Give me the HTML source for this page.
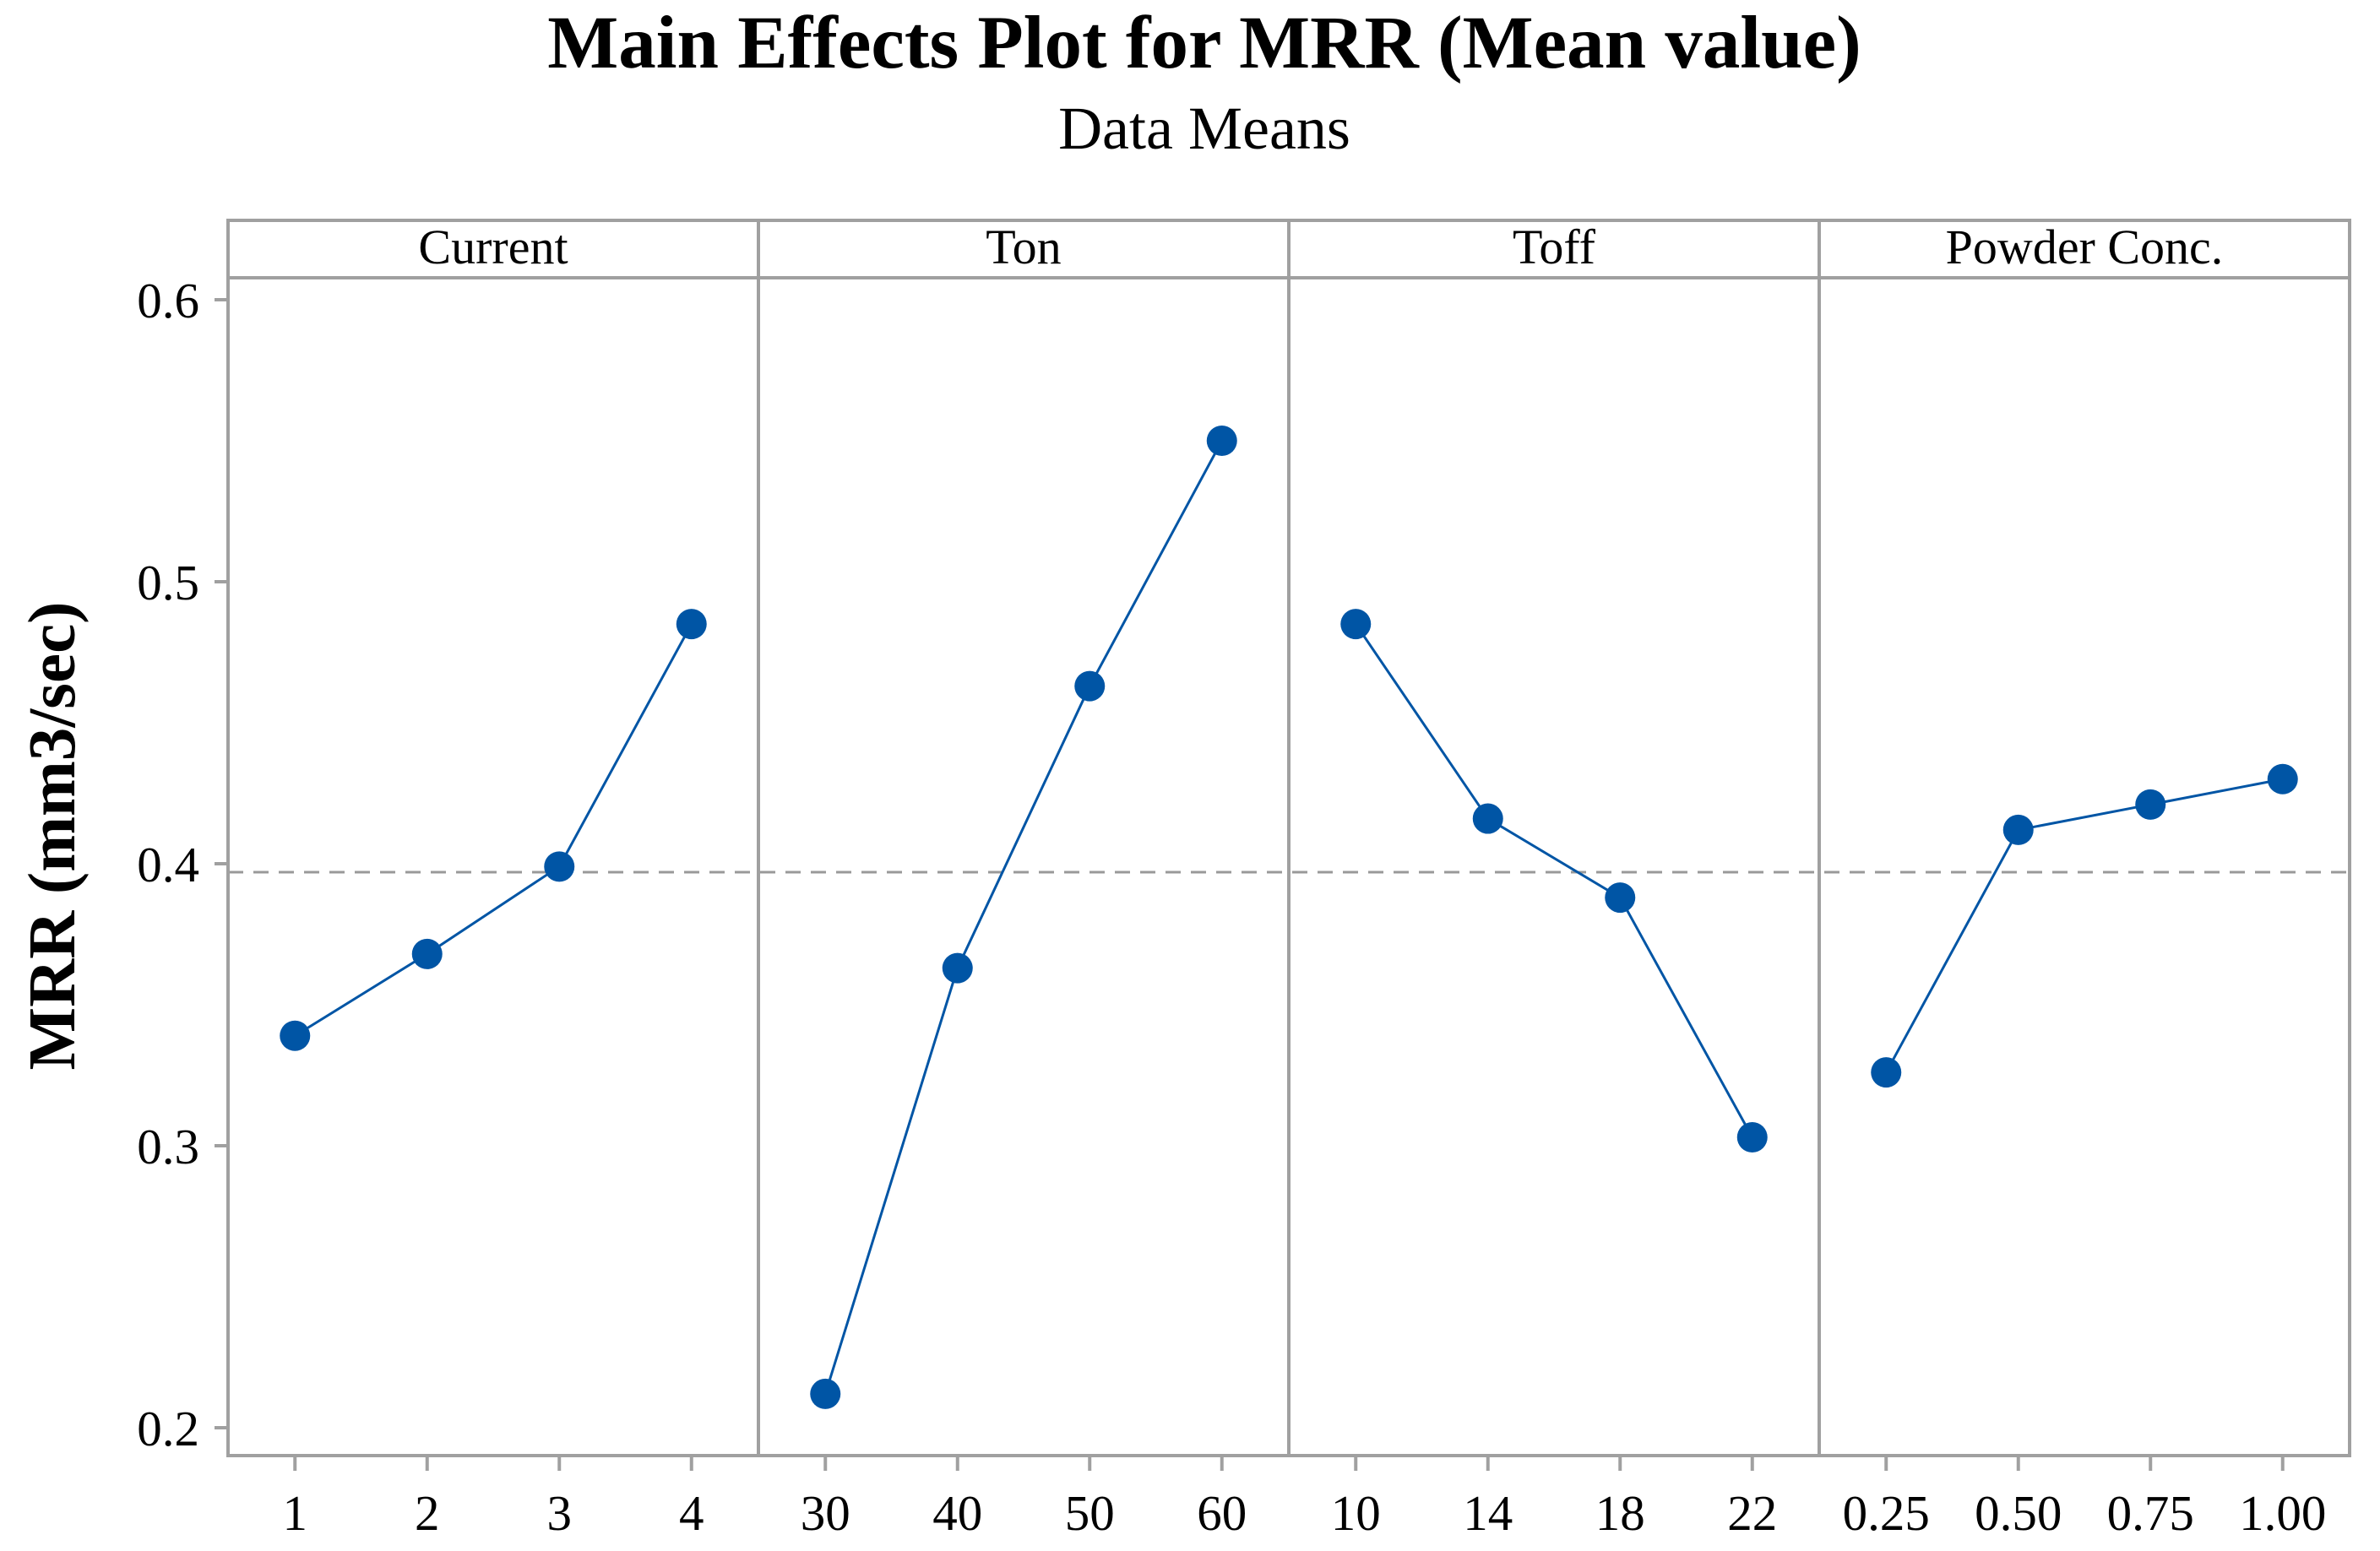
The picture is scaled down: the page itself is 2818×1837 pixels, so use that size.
<!DOCTYPE html>
<html><head><meta charset="utf-8"><style>
html,body{margin:0;padding:0;background:#fff}
svg{display:block;font-family:"Liberation Serif",serif}
</style></head><body>
<svg id="chart" width="2818" height="1837" viewBox="0 0 2818 1837">
<text x="1426" y="80" text-anchor="middle" font-size="89" font-weight="bold">Main Effects Plot for MRR (Mean value)</text>
<text x="1426" y="176" text-anchor="middle" font-size="72">Data Means</text>
<text transform="translate(88,990) rotate(-90)" text-anchor="middle" font-size="79" font-weight="bold">MRR (mm3/sec)</text>
<g id="plot"></g>
</svg>
<script>
const factors = ["Current","Ton","Toff","Powder Conc."];
const levelLabels = [["1","2","3","4"],["30","40","50","60"],["10","14","18","22"],["0.25","0.50","0.75","1.00"]];
const currentMeans = [0.339,0.368,0.399,0.485];
const tonMeans = [0.212,0.363,0.463,0.550];
const toffMeans = [0.485,0.416,0.388,0.303];
const powderMeans = [0.326,0.412,0.421,0.430];
const yTicks = [0.2,0.3,0.4,0.5,0.6];
const grandMean = 0.397;

const series=[currentMeans,tonMeans,toffMeans,powderMeans];
const NS="http://www.w3.org/2000/svg";
const g=document.getElementById('plot');
const L=270,R=2782,T=261,B=1724,H=329;
const pw=(R-L)/4, step=156.5;
const y=v=>355+(0.6-v)*3340;
const x=(p,i)=>L+p*pw+(pw-3*step)/2+i*step;
function mk(t,a){const e=document.createElementNS(NS,t);for(const k in a)e.setAttribute(k,a[k]);g.appendChild(e);return e;}
const gray="#a0a0a0";
let e=mk('line',{x1:L,x2:R,y1:y(grandMean),y2:y(grandMean),stroke:"#999",'stroke-width':3,'stroke-dasharray':"18 12"});


e=mk('rect',{x:L,y:T,width:R-L,height:B-T,fill:"none",stroke:gray,'stroke-width':4});


e=mk('line',{x1:L,x2:R,y1:H,y2:H,stroke:gray,'stroke-width':4});


yTicks.forEach(v=>{
 let t=mk('line',{x1:L-16,x2:L,y1:y(v),y2:y(v),stroke:gray,'stroke-width':4});
 
 
 let s=mk('text',{x:236,y:y(v)+21,'text-anchor':'end','font-size':59});
 s.textContent=v.toFixed(1);
 
 
});
factors.forEach((f,p)=>{
 if(p>0){let d=mk('line',{x1:L+p*pw,x2:L+p*pw,y1:T,y2:B,stroke:gray,'stroke-width':4});
  
  }
 let h=mk('text',{x:L+p*pw+pw/2,y:312,'text-anchor':'middle','font-size':58});
 h.textContent=f;
 
 
 const vals=series[p];
 const pts=vals.map((v,i)=>x(p,i)+','+y(v)).join(' ');
 let pl=mk('polyline',{points:pts,fill:'none',stroke:'#0055a5','stroke-width':3});
 
 
 vals.forEach((v,i)=>{
  let c=mk('circle',{cx:x(p,i),cy:y(v),r:18,fill:'#0055a5'});
  
  
  let t=mk('line',{x1:x(p,i),x2:x(p,i),y1:B,y2:B+18,stroke:gray,'stroke-width':4});
  
  
  let s=mk('text',{x:x(p,i),y:1812,'text-anchor':'middle','font-size':59});
  s.textContent=levelLabels[p][i];
  
  
 });
});
</script>
</body></html>
